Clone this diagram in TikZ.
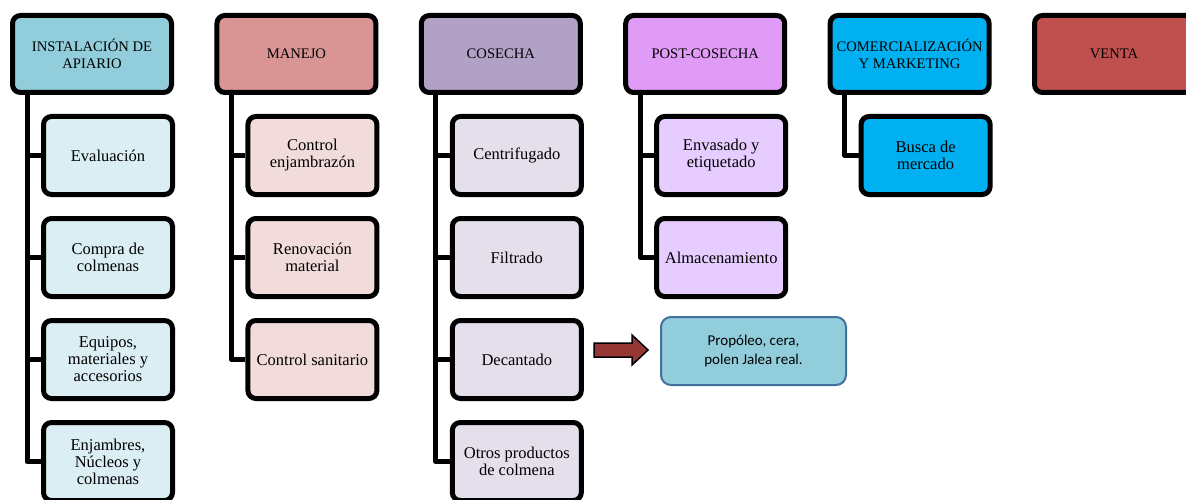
\documentclass[tikz,border=0pt]{standalone}
\usepackage{fontspec}
\setmainfont{Liberation Serif}
\newfontfamily\calfont{Carlito}
\definecolor{hA}{HTML}{92CDDC}\definecolor{kA}{HTML}{DAEEF3}
\definecolor{hB}{HTML}{D99594}\definecolor{kB}{HTML}{F2DBDB}
\definecolor{hC}{HTML}{B2A1C7}\definecolor{kC}{HTML}{E5DFEC}
\definecolor{hD}{HTML}{DF9BF5}\definecolor{kD}{HTML}{E6CCFF}
\definecolor{hE}{HTML}{00B0F0}
\definecolor{hF}{HTML}{C0504D}
\definecolor{callfill}{HTML}{92CDDC}\definecolor{callline}{HTML}{41719C}
\definecolor{arrfill}{HTML}{953734}
\begin{document}
\begin{tikzpicture}[x=1pt,y=-1pt,
  hdr/.style={draw=black, line width=5pt, rounded corners=8pt, minimum width=159pt, minimum height=77pt, align=center, inner sep=1pt, font=\fontsize{14.6}{17}\selectfont},
  kid/.style={draw=black, line width=5pt, rounded corners=8pt, minimum width=129pt, minimum height=78pt, align=center, inner sep=2pt, font=\fontsize{16.5}{17}\selectfont},
  link/.style={line width=5pt, line join=round, draw=black},
  callout/.style={draw=callline, fill=callfill, line width=2pt, rounded corners=10pt, minimum width=185pt, minimum height=68pt, align=center, font=\calfont\fontsize{15}{19}\selectfont}]
\useasboundingbox (0,0) rectangle (1186,500);
\fill[white] (0,0) rectangle (1186,500);
% headers
\node[hdr, fill=hA] (h1) at (92,54) {INSTALACIÓN DE\\APIARIO};
\node[hdr, fill=hB] (h2) at (296.4,54) {MANEJO};
\node[hdr, fill=hC] (h3) at (500.8,54) {COSECHA};
\node[hdr, fill=hD] (h4) at (705.2,54) {POST-COSECHA};
\node[hdr, fill=hE] (h5) at (909.6,54) {COMERCIALIZACIÓN\\Y MARKETING};
\node[hdr, fill=hF] (h6) at (1114,54) {VENTA};
% column 1
\node[kid, fill=kA] (c1a) at (108,155.5) {Evaluación};
\node[kid, fill=kA] (c1b) at (108,257.5) {Compra de\\colmenas};
\node[kid, fill=kA] (c1c) at (108,359.5) {Equipos,\\materiales y\\accesorios};
\node[kid, fill=kA] (c1d) at (108,461.5) {Enjambres,\\Núcleos y\\colmenas};
% column 2
\node[kid, fill=kB] (c2a) at (312.4,155.5) {Control\\enjambrazón};
\node[kid, fill=kB] (c2b) at (312.4,257.5) {Renovación\\material};
\node[kid, fill=kB] (c2c) at (312.4,359.5) {Control sanitario};
% column 3
\node[kid, fill=kC] (c3a) at (516.8,155.5) {Centrifugado};
\node[kid, fill=kC] (c3b) at (516.8,257.5) {Filtrado};
\node[kid, fill=kC] (c3c) at (516.8,359.5) {Decantado};
\node[kid, fill=kC] (c3d) at (516.8,461.5) {Otros productos\\de colmena};
% column 4
\node[kid, fill=kD] (c4a) at (721.2,155.5) {Envasado y\\etiquetado};
\node[kid, fill=kD] (c4b) at (721.2,257.5) {Almacenamiento};
% column 5
\node[kid, fill=hE] (c5a) at (925.6,155.5) {Busca de\\mercado};
% trunks
\coordinate (t1) at (27,93);
\coordinate (t2) at (231.4,93);
\coordinate (t3) at (435.8,93);
\coordinate (t4) at (640.2,93);
\coordinate (t5) at (844.6,93);
\draw[link] (h1.south -| t1) |- (c1d.west);
\draw[link] (t1 |- c1a.west) -- (c1a.west);
\draw[link] (t1 |- c1b.west) -- (c1b.west);
\draw[link] (t1 |- c1c.west) -- (c1c.west);
\draw[link] (h2.south -| t2) |- (c2c.west);
\draw[link] (t2 |- c2a.west) -- (c2a.west);
\draw[link] (t2 |- c2b.west) -- (c2b.west);
\draw[link] (h3.south -| t3) |- (c3d.west);
\draw[link] (t3 |- c3a.west) -- (c3a.west);
\draw[link] (t3 |- c3b.west) -- (c3b.west);
\draw[link] (t3 |- c3c.west) -- (c3c.west);
\draw[link] (h4.south -| t4) |- (c4b.west);
\draw[link] (t4 |- c4a.west) -- (c4a.west);
\draw[link] (h5.south -| t5) |- (c5a.west);
% callout and block arrow
\node[callout] (call) at (753.5,351) {Propóleo, cera,\\polen Jalea real.};
\filldraw[fill=arrfill, draw=black, line width=1.5pt, line join=miter]
  (594,343) -- (632,343) -- (632,335) -- (648,350) -- (632,365) -- (632,357) -- (594,357) -- cycle;
\end{tikzpicture}
\end{document}
